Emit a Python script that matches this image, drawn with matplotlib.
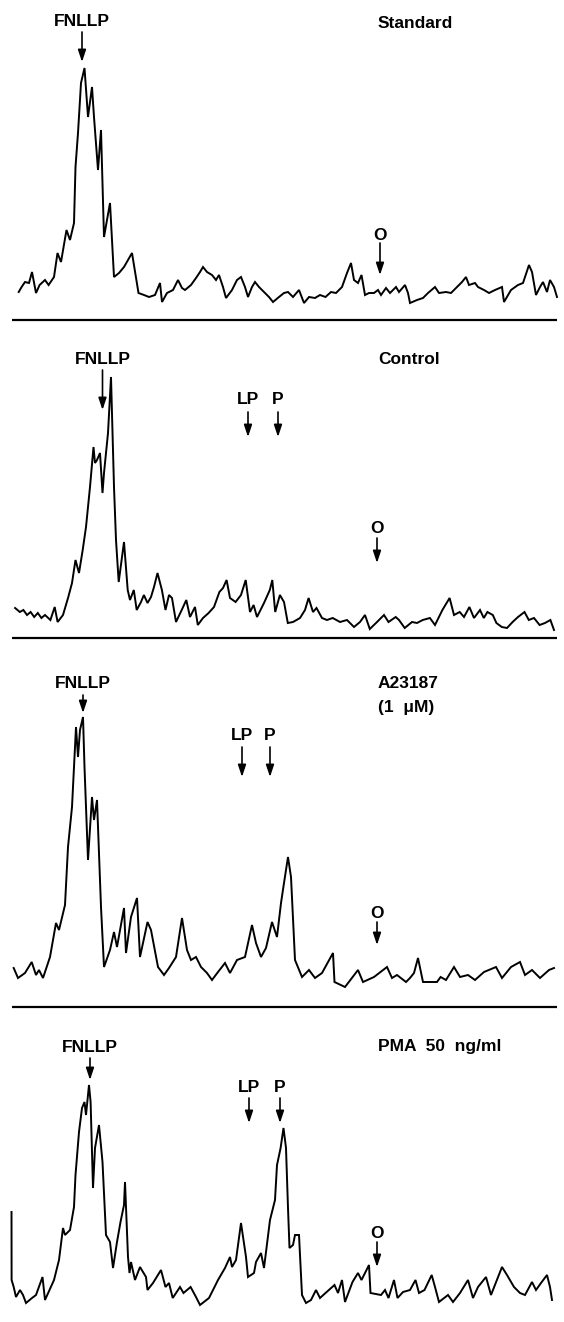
import matplotlib
matplotlib.use("Agg")
import matplotlib.pyplot as plt

plt.rcParams['font.family'] = ['Liberation Sans', 'DejaVu Sans']

# Standard trace (distance, signal)
std_x = [18.7, 21.6, 25, 29, 32, 36, 39.6, 45, 48.6, 54, 57.5, 61, 66.5, 70, 74,
         75.5, 78, 81, 84.5, 88, 92, 94, 98, 101, 104, 110, 114, 119, 124, 132,
         138.5, 144, 149, 155, 160, 162, 167, 173, 178, 182, 185, 191, 196, 200, 203,
         207, 212, 216, 219, 223, 226, 232, 237, 241, 245, 248, 252, 255, 259, 264,
         269, 273, 279, 284, 288, 293, 299, 304, 309, 315, 320, 325.5, 331, 336, 342,
         347, 351, 354, 358, 361.5, 365, 369, 374, 378, 381, 386, 390, 396, 399, 405,
         408, 410, 417, 423, 428, 435, 439, 446, 451, 457, 462, 466, 469, 475, 478,
         484, 489, 495, 502, 504, 511, 518, 523, 529, 532, 536, 540, 543, 547, 550,
         554, 557]
std_y = [28, 33, 38, 37, 48, 27, 35, 40, 35, 43, 67, 58, 90, 80, 97,
         153, 187, 237, 252, 203, 233, 203, 150, 190, 83, 117, 43, 47, 53, 67,
         27, 25, 23, 25, 37, 18, 27, 30, 40, 32, 30, 35, 42, 48, 53,
         48, 45, 40, 45, 33, 22, 30, 40, 43, 33, 23, 33, 38, 33, 28,
         23, 18, 23, 27, 28, 23, 30, 17, 23, 22, 25, 23, 28, 27, 33,
         47, 57, 40, 37, 45, 25, 27, 27, 30, 25, 32, 27, 33, 28, 35,
         27, 17, 20, 22, 27, 33, 27, 28, 27, 33, 38, 43, 35, 37, 33,
         30, 27, 30, 33, 18, 30, 35, 37, 55, 48, 25, 33, 38, 28, 40,
         33, 23]

# Control trace
ctl_x = [15.1, 19.8, 23.4, 27, 30.6, 34.2, 37.8, 41.4, 45, 50.4, 54.7, 57.6, 63, 68.3,
         72, 75.5, 79, 82.7, 86, 90, 93.5, 95, 97, 100, 102.5, 104, 108, 111, 114, 116,
         118.7, 124, 127.7, 130, 133.8, 136.7, 141, 143.9, 147.5, 151, 154, 157.5, 161.9,
         165.5, 169, 172, 176, 181.7, 186.3, 190, 195, 197.8, 203, 208.6, 214, 219.4, 223,
         226.6, 230, 235.6, 241, 245.7, 250, 253.6, 257, 264, 269.8, 272.3, 275.2, 279.9,
         284, 287.8, 293, 300, 305, 308.6, 313, 316.5, 322, 327, 332.7, 340, 347, 354, 360,
         365, 369.8, 376, 384, 388.5, 395.7, 399, 404.7, 412, 417, 422.7, 429.9, 435,
         442.4, 449.6, 454, 459.7, 464, 469.4, 474, 480, 483.8, 487.4, 492.8, 496.4,
         501.8, 507, 512.6, 518, 524.5, 528.8, 534, 539.6, 545, 550.4, 554]
ctl_y = [30, 26, 28, 23, 26, 21, 25, 20, 23, 18, 31, 16, 23, 41,
         55, 78, 65, 88, 111, 151, 191, 175, 178, 185, 145, 165, 205, 261, 151, 98,
         56, 96, 48, 38, 48, 28, 36, 43, 35, 41, 51, 65, 48,
         28, 43, 40, 16, 28, 38, 21, 31, 13, 20, 25, 31, 46, 50,
         58, 40, 36, 43, 58, 26, 33, 21, 35, 48, 58, 26, 43,
         36, 15, 16, 20, 28, 40, 26, 30, 20, 18, 20, 16, 18, 11, 16,
         23, 9, 15, 23, 16, 21, 18, 10, 16, 15, 18, 20, 13,
         28, 40, 23, 26, 21, 31, 20, 28, 20, 26, 23, 15,
         11, 10, 16, 21, 26, 18, 20, 13, 15, 18, 8]

# A23187 trace
a23_x = [13.7, 18, 25, 31.7, 36, 39, 43, 50, 56, 59, 65, 68, 72, 76, 78, 80, 83, 84.5, 88,
         92, 94, 97, 101, 104, 110, 114, 117, 124, 126, 131, 137, 140, 147.5, 151, 158,
         164, 169, 176, 182, 187, 191, 196, 201, 207, 212, 218, 225, 230, 237, 245, 252,
         256, 261, 266, 272, 277, 281, 284, 288, 291, 295, 302, 309, 315, 322, 333, 334.5,
         345, 358, 363, 374, 387, 392, 397, 406, 410, 414, 418, 423, 437, 440.6, 446, 454,
         460, 468, 475, 484, 496, 502, 511, 520, 525, 532, 540, 549, 554]
a23_y = [39, 29, 34, 45, 32, 37, 29, 50, 84, 77, 102, 160, 200, 280, 250, 277, 290, 240, 147,
         210, 187, 207, 100, 40, 57, 75, 60, 99, 54, 90, 109, 50, 85, 77, 40,
         32, 39, 50, 89, 57, 47, 50, 40, 34, 27, 35, 44, 34, 47, 50, 82,
         64, 50, 59, 85, 70, 104, 124, 150, 130, 47, 30, 37, 29, 34, 54, 25,
         20, 37, 25, 30, 40, 29, 32, 25, 29, 34, 49, 25, 25, 30, 27, 40,
         30, 32, 27, 35, 40, 29, 40, 45, 32, 37, 29, 37, 39]

# PMA trace
pma_x = [11.5, 11.6, 13.7, 16, 20, 23, 26, 32, 36, 42.5, 45, 54, 59, 63, 65, 70, 74, 75.5,
         79, 82, 84.5, 86, 89, 90.6, 93, 95, 99, 102.5, 106, 110, 113, 117, 120.5, 124,
         125, 128, 129.5, 131, 135, 140, 146, 147.5, 153, 161, 165.5, 169, 172.7, 180,
         183.5, 190.6, 196, 200, 209, 218, 225, 230, 232, 236, 241, 246, 248, 254, 256,
         261, 264, 270, 275, 277, 280.6, 283.5, 286, 288, 289.5, 293, 295, 299, 302, 306,
         311, 316, 320, 325.5, 334.5, 338, 342, 345, 352.5, 358, 361.5, 369, 370.5, 381,
         385, 388.5, 394, 397.5, 403, 410, 415.5, 419, 424.5, 431.7, 435, 439, 448, 453,
         460, 468, 473, 478, 486, 491, 502, 507, 514, 520, 525, 532, 536, 541, 547, 550, 552]
pma_y = [110, 42, 35, 25, 32, 27, 19, 24, 27, 45, 22, 42, 62, 94, 87, 92, 115, 147,
         190, 214, 220, 207, 237, 220, 134, 174, 197, 160, 87, 80, 54, 80, 100, 117,
         140, 65, 49, 60, 42, 55, 45, 32, 39, 52, 35, 39, 24, 35,
         29, 35, 25, 17, 24, 42, 54, 65, 55, 62, 99, 65, 45, 49, 60,
         69, 54, 102, 122, 157, 174, 194, 174, 114, 74, 77, 87, 87, 27, 19,
         22, 32, 24, 29, 37, 29, 42, 20, 40, 49, 42, 57, 29, 27,
         32, 24, 42, 24, 30, 32, 42, 29, 32, 47, 35, 20, 27, 20,
         29, 42, 24, 35, 45, 27, 55, 47, 35, 29, 27, 40, 32, 39, 47, 35, 22]

# labels: peak name, arrow x, label height, arrow tail, arrow tip
std_marks = [("FNLLP", 82, 299, 288, 258), ("O", 380, 85, 77, 45)]
ctl_marks = [("FNLLP", 102.5, 278, 268, 228), ("LP", 248, 238, 226, 201),
             ("P", 278, 238, 226, 201), ("O", 377, 110, 100, 75)]
a23_marks = [("FNLLP", 83, 324, 312, 294), ("LP", 242, 272, 260, 230),
             ("P", 270, 272, 260, 230), ("O", 377, 94, 85, 62)]
pma_marks = [("FNLLP", 90, 275, 264, 242), ("LP", 249, 234, 224, 199),
             ("P", 280, 234, 224, 199), ("O", 377, 89, 80, 55)]

titles = [["Standard"], ["Control"], ["A23187", "(1  \u03bcM)"], ["PMA  50  ng/ml"]]
title_h = [[297], [278], [324, 300], [275]]

# panel extents in pixels (top, bottom) of the 564 x 1322 page
bounds = [(0, 320), (320, 638), (638, 1007), (1007, 1322)]
has_rule = [True, True, True, False]

traces = [(std_x, std_y), (ctl_x, ctl_y), (a23_x, a23_y), (pma_x, pma_y)]
marks = [std_marks, ctl_marks, a23_marks, pma_marks]

W, H = 564, 1322
fig = plt.figure(figsize=(W / 100, H / 100), dpi=100)

for i in range(4):
    top, bot = bounds[i]
    ax = fig.add_axes([0, 1 - bot / H, 1, (bot - top) / H])
    ax.set_xlim(0, W)
    ax.set_ylim(0, bot - top)
    ax.axis("off")

    x, y = traces[i]
    ax.plot(x, y, color="black", lw=1.4, solid_joinstyle="miter")

    for name, ax_x, lab_h, tail, tip in marks[i]:
        ax.text(ax_x, lab_h, name, ha="center", va="center", fontsize=12.5,
                fontweight="bold")
        ax.annotate("", xy=(ax_x, tip), xytext=(ax_x, tail),
                    arrowprops=dict(arrowstyle="-|>,head_length=0.45,head_width=0.15",
                                    color="black", lw=1.2, shrinkA=0, shrinkB=0,
                                    mutation_scale=16))

    for t, h in zip(titles[i], title_h[i]):
        ax.text(378, h, t, ha="left", va="center", fontsize=12.5, fontweight="bold")

    if has_rule[i]:
        ax.hlines(0, 12, 557, color="black", lw=1.6, clip_on=False)

fig.savefig("out.png", dpi=100)
